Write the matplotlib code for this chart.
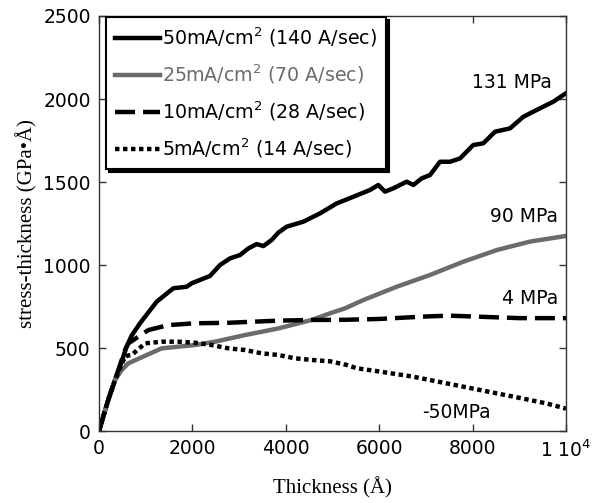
import numpy as np
import matplotlib
matplotlib.use('Agg')
import matplotlib.pyplot as plt

# 50 mA/cm2 (140 A/sec)
x50 = [0, 200, 343, 500, 593, 700, 878, 1235, 1592, 1877, 1985, 2163, 2377, 2591, 2805,
       3019, 3198, 3377, 3519, 3698, 3840, 4019, 4375, 4732, 5090, 5446, 5803, 5981, 6124,
       6302, 6588, 6731, 6909, 7088, 7302, 7516, 7730, 8015, 8229, 8480, 8801, 9086, 9372,
       9728, 9942, 10000]
y50 = [0, 190, 307, 430, 510, 575, 649, 779, 860, 869, 890, 910, 934, 1000, 1040,
       1060, 1100, 1126, 1114, 1151, 1195, 1231, 1261, 1311, 1371, 1411, 1452, 1482, 1442,
       1462, 1502, 1482, 1522, 1542, 1622, 1622, 1642, 1723, 1733, 1803, 1823, 1893, 1934,
       1984, 2024, 2035]

# 25 mA/cm2 (70 A/sec)
x25 = [0, 200, 343, 485, 628, 700, 1342, 2056, 2484, 3126, 3840, 4554, 4946, 5268, 5660,
       6374, 7088, 7802, 8516, 9229, 10000]
y25 = [0, 187, 307, 367, 408, 417, 498, 518, 538, 578, 618, 669, 709, 739, 789,
       869, 940, 1020, 1090, 1141, 1175]

# 10 mA/cm2 (28 A/sec)
x10 = [0, 200, 343, 557, 628, 842, 1056, 1484, 2056, 2769, 3840, 4554, 5268, 6000, 7000,
       7500, 8000, 9000, 10000]
y10 = [0, 190, 307, 488, 528, 568, 608, 638, 649, 652, 665, 669, 670, 675, 690,
       695, 690, 680, 680]

# 5 mA/cm2 (14 A/sec)
x5 = [0, 200, 343, 557, 628, 700, 985, 1342, 1699, 2056, 2413, 2769, 3126, 3484, 3840,
      4197, 4554, 4946, 5304, 5518, 6017, 6731, 7445, 8158, 8872, 9586, 10000]
y5 = [0, 190, 307, 448, 455, 458, 528, 538, 538, 532, 518, 498, 488, 468, 458,
      438, 428, 420, 398, 378, 358, 327, 287, 247, 207, 166, 135]

labels = ['50mA/cm$^2$ (140 A/sec)', '25mA/cm$^2$ (70 A/sec)',
          '10mA/cm$^2$ (28 A/sec)', '5mA/cm$^2$ (14 A/sec)']

sans = 'DejaVu Sans'
serif = 'Liberation Serif'

fig = plt.figure(figsize=(6.01, 5.03), dpi=100)
ax = fig.add_axes([0.1647, 0.1431, 0.7771, 0.8251])

grey = '#6b6b6b'
ax.plot(x50, y50, '-', color='k', lw=3.2, label=labels[0])
ax.plot(x25, y25, '-', color=grey, lw=3.2, label=labels[1])
ax.plot(x10, y10, color='k', lw=3.2, linestyle=(0, (4.5, 1.8)), label=labels[2])
ax.plot(x5, y5, color='k', lw=3.2, linestyle=(0, (1.0, 0.8)), label=labels[3])

ax.set_xlim(0, 10000)
ax.set_ylim(0, 2500)
ax.set_xticks([0, 2000, 4000, 6000, 8000, 10000])
ax.set_xticklabels(['0', '2000', '4000', '6000', '8000', '1 10$^4$'])
ax.set_yticks([0, 500, 1000, 1500, 2000, 2500])
ax.tick_params(direction='in', top=True, right=True, length=5, width=1,
               color='#333333', labelsize=13.5, pad=6)
for lab in ax.get_xticklabels() + ax.get_yticklabels():
    lab.set_family(sans)
for s in ax.spines.values():
    s.set_color('#333333')
    s.set_linewidth(1)

ax.set_xlabel('Thickness (Å)', family=serif, fontsize=15, labelpad=12)
ax.set_ylabel('stress-thickness (GPa•Å)', family=serif, fontsize=15, labelpad=4)

ax.text(9700, 2100, '131 MPa', family=sans, fontsize=13.5, ha='right', va='center')
ax.text(9830, 1290, '90 MPa', family=sans, fontsize=13.5, ha='right', va='center')
ax.text(9830, 800, '4 MPa', family=sans, fontsize=13.5, ha='right', va='center')
ax.text(7650, 110, '-50MPa', family=sans, fontsize=13.5, ha='center', va='center')

leg = ax.legend(loc='upper left', bbox_to_anchor=(0.015, 0.998), borderaxespad=0,
                prop={'family': sans, 'size': 13.7}, fancybox=False, framealpha=1,
                edgecolor='k', handlelength=2.4, handletextpad=0.1,
                labelspacing=0.72, borderpad=0.45,
                shadow={'color': 'k', 'alpha': 1, 'ox': 2, 'oy': -2})
leg.get_frame().set_linewidth(1.5)
leg.get_texts()[1].set_color(grey)

fig.savefig('out.png', dpi=100)
